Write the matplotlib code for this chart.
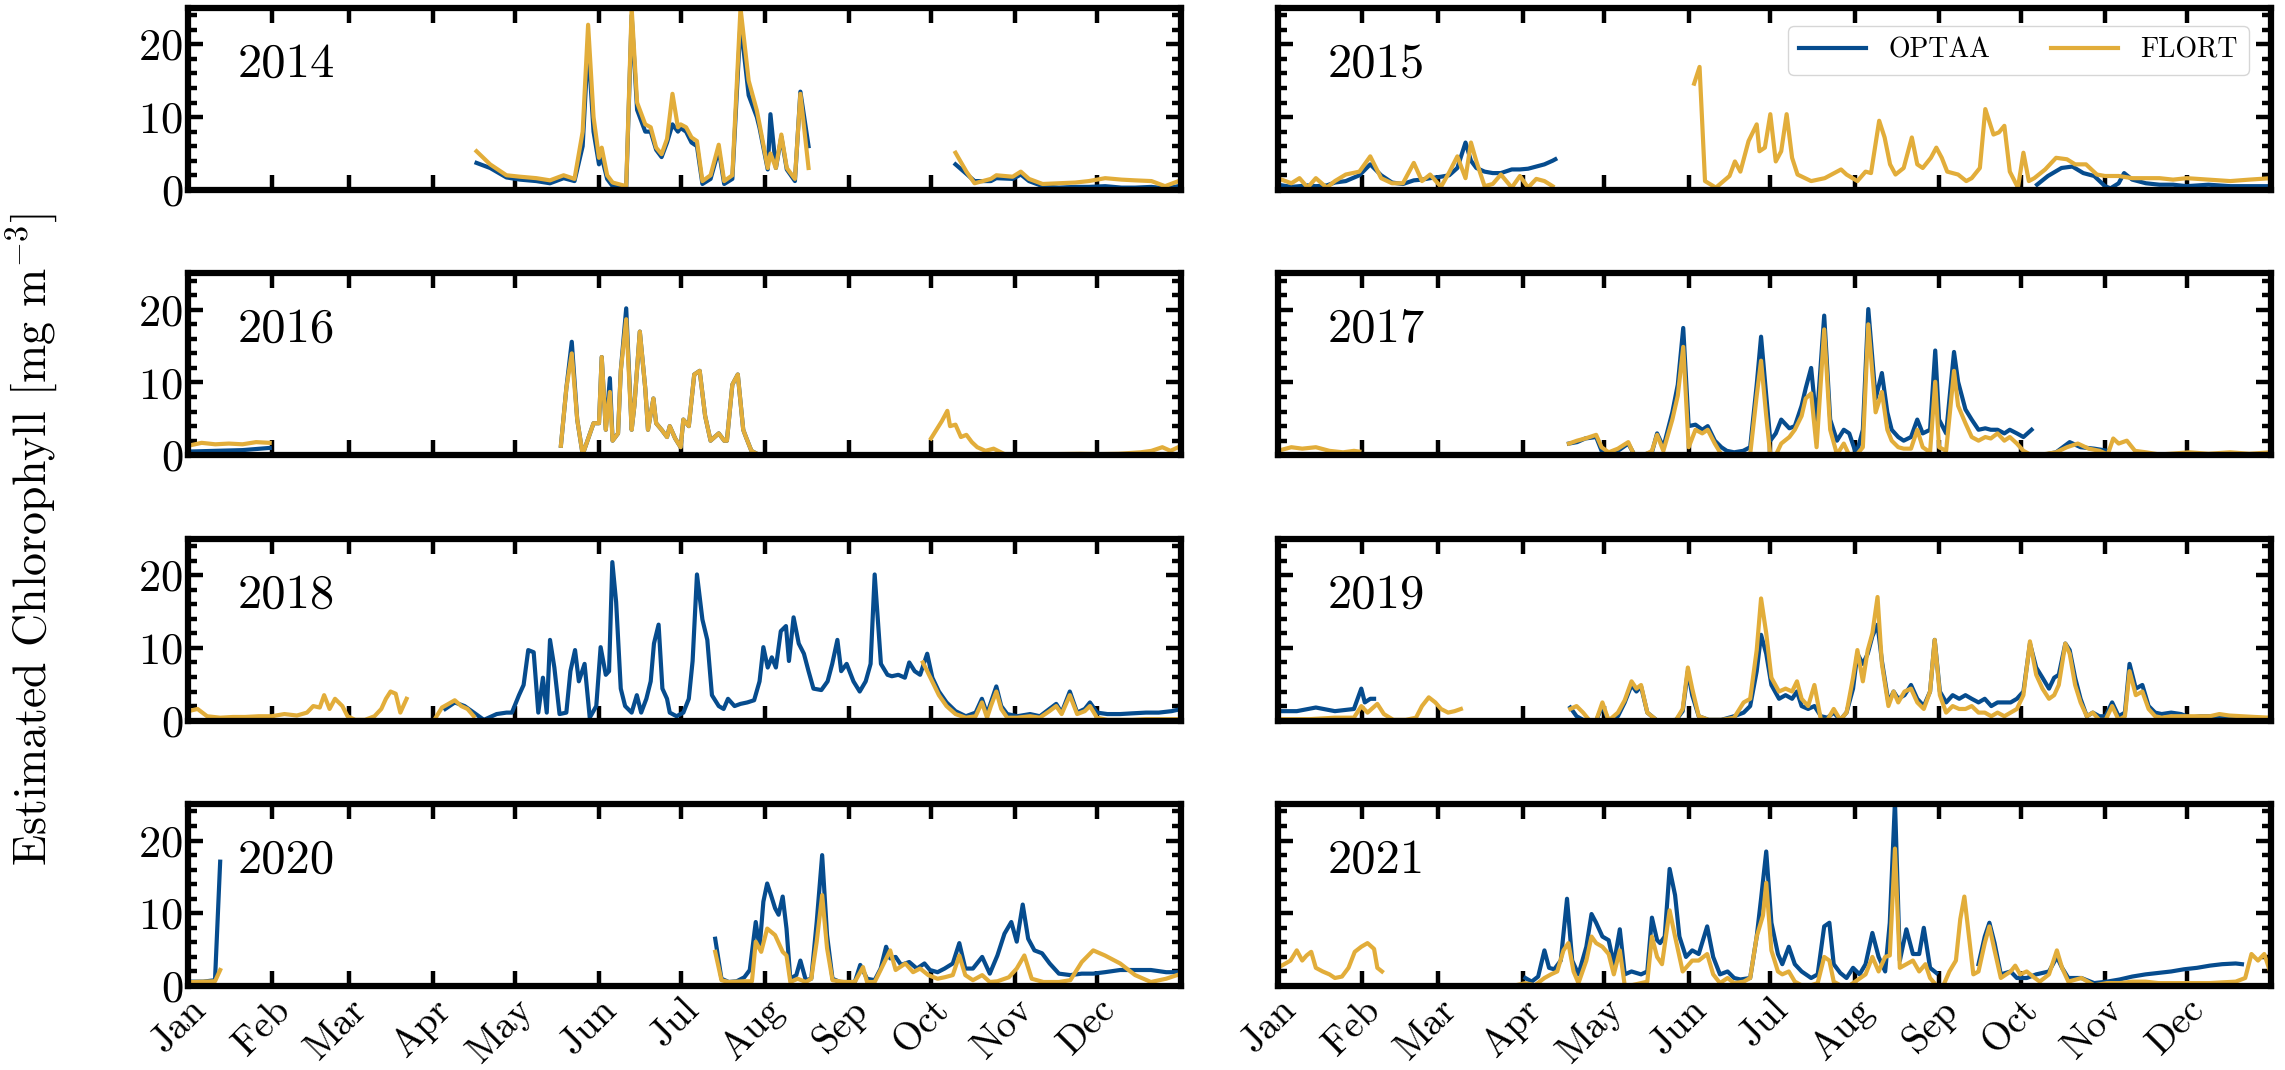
import numpy as np
import matplotlib
matplotlib.use('Agg')
import matplotlib.pyplot as plt
from matplotlib.ticker import MultipleLocator

# fonts: computer modern look
plt.rcParams['font.family'] = 'cmr10'
plt.rcParams['mathtext.fontset'] = 'cm'
plt.rcParams['axes.formatter.use_mathtext'] = True

years = [2014, 2015, 2016, 2017, 2018, 2019, 2020, 2021]
months = ['Jan', 'Feb', 'Mar', 'Apr', 'May', 'Jun', 'Jul', 'Aug', 'Sep', 'Oct', 'Nov', 'Dec']
month_start = [0, 31, 59, 90, 120, 151, 181, 212, 243, 273, 304, 334]

# (day of year, chlorophyll), None = gap in record
optaa_2014 = [(106, 3.7), (111, 3.0), (117, 1.7), (122, 1.4), (128, 1.2), (133, 0.9), (138, 1.6), (142, 1.2),
              (145, 6.0), (147, 20.0), (149, 8.0), (151, 3.5), (152, 4.5), (154, 1.5), (156, 0.5), (161, 0.2),
              (163, 24.0), (165, 11.0), (168, 8.0), (170, 8.0), (172, 5.5), (174, 4.5), (176, 6.5), (178, 9.0),
              (180, 8.0), (181, 8.5), (183, 8.0), (185, 6.5), (187, 6.0), (189, 0.8), (192, 1.5), (195, 5.5),
              (197, 0.8), (200, 1.5), (203, 23.0), (206, 13.0), (209, 10.0), (210, 8.5), (213, 2.8), (214, 10.4),
              (216, 3.0), (218, 7.3), (220, 2.8), (223, 1.2), (225, 13.5), (228, 6.0), (250, None),
              (282, 3.5), (286, 2.2), (289, 1.2), (295, 1.2), (297, 1.6), (303, 1.5), (306, 2.1), (309, 1.2),
              (314, 0.5), (320, 0.3), (326, 0.4), (331, 0.4), (337, 0.5), (343, 0.3), (348, 0.3), (354, 0.4),
              (359, 0.2), (364, 0.5)]
flort_2014 = [(106, 5.3), (111, 3.5), (117, 2.0), (122, 1.8), (128, 1.6), (133, 1.3), (138, 2.0), (142, 1.5),
              (145, 8.0), (147, 22.7), (149, 10.0), (151, 4.4), (152, 5.8), (154, 2.0), (156, 1.0), (161, 0.5),
              (163, 25.0), (165, 12.0), (168, 9.0), (170, 8.6), (172, 5.8), (174, 4.9), (176, 7.0), (178, 13.2),
              (180, 8.6), (181, 9.0), (183, 8.6), (185, 7.2), (187, 6.7), (189, 1.2), (192, 2.0), (195, 6.2),
              (197, 1.2), (200, 2.0), (203, 25.0), (206, 15.0), (209, 10.9), (210, 9.0), (213, 3.0), (214, 5.0),
              (216, 3.0), (218, 7.6), (220, 3.0), (223, 1.5), (225, 13.2), (228, 3.0), (250, None),
              (282, 5.1), (286, 2.5), (289, 0.9), (295, 1.5), (297, 2.0), (303, 1.8), (306, 2.5), (309, 1.5),
              (314, 0.8), (320, 0.9), (326, 1.0), (331, 1.2), (337, 1.6), (343, 1.4), (348, 1.3), (354, 1.2),
              (359, 0.5), (364, 1.2)]

optaa_2015 = [(0, 0.7), (5, 0.4), (8, 0.5), (11, 0.6), (14, 0.5), (18, 0.6), (21, 1.0), (25, 1.2), (30, 2.0),
              (34, 3.5), (38, 2.0), (42, 1.0), (46, 0.8), (50, 1.3), (53, 1.4), (56, 1.6), (60, 1.8), (63, 2.0),
              (66, 3.0), (69, 6.5), (71, 4.0), (73, 3.0), (76, 2.5), (79, 2.3), (82, 2.3), (86, 2.8), (89, 2.8),
              (92, 2.9), (95, 3.2), (98, 3.5), (101, 4.0), (102, 4.2), (150, None),
              (279, 0.7), (283, 1.9), (288, 3.0), (292, 3.2), (296, 2.3), (300, 1.9), (304, 0.5), (306, 0.2),
              (309, 0.9), (311, 2.3), (314, 1.4), (319, 0.9), (324, 0.7), (329, 0.7), (334, 0.5), (342, 0.7),
              (350, 0.5), (357, 0.5), (365, 0.5)]
flort_2015 = [(0, 1.6), (5, 0.9), (8, 1.6), (11, 0.3), (14, 1.6), (18, 0.3), (21, 1.2), (25, 2.1), (30, 2.5),
              (34, 4.6), (38, 1.6), (42, 0.9), (46, 0.9), (50, 3.7), (53, 1.2), (56, 2.1), (60, 0.4), (63, 2.4),
              (66, 4.6), (69, 1.6), (71, 6.5), (73, 3.9), (76, 0.5), (79, 0.8), (82, 2.1), (86, 0.3), (89, 1.9),
              (92, 0.3), (95, 1.5), (98, 1.2), (101, 0.5), (130, None),
              (153, 14.6), (155, 16.9), (157, 1.2), (161, 0.3), (166, 1.9), (168, 3.9), (170, 2.5), (173, 6.7),
              (176, 9.0), (177, 5.3), (179, 5.8), (181, 10.4), (183, 3.9), (185, 5.3), (187, 10.4), (189, 4.4),
              (191, 2.1), (196, 1.2), (201, 1.6), (207, 2.8), (209, 2.1), (213, 1.2), (216, 2.5), (218, 2.3),
              (221, 9.5), (223, 7.2), (225, 3.5), (227, 2.1), (230, 3.0), (233, 7.2), (235, 3.5), (237, 3.0),
              (240, 4.4), (242, 5.8), (244, 4.4), (246, 2.5), (250, 2.1), (253, 1.2), (255, 1.6), (258, 3.0),
              (260, 11.1), (263, 7.6), (265, 7.9), (267, 8.8), (269, 2.5), (272, 0.3), (274, 5.1), (276, 1.2),
              (278, 1.6), (282, 2.8), (286, 4.4), (290, 4.2), (293, 3.5), (297, 3.5), (301, 2.1), (304, 1.9),
              (309, 1.9), (314, 1.6), (319, 1.6), (324, 1.6), (329, 1.4), (334, 1.6), (342, 1.4), (350, 1.2),
              (357, 1.4), (365, 1.6)]

optaa_2016 = [(0, 0.5), (10, 0.6), (20, 0.7), (30, 1.0), (60, None),
              (137, 1.3), (139, 9.2), (141, 15.6), (143, 4.9), (145, 0.1), (149, 4.4), (151, 4.4), (152, 13.5),
              (153.5, 3.5), (155, 10.6), (156, 2.0), (158, 3.0), (159, 11.6), (161, 20.2), (163, 3.5), (164, 6.8),
              (166, 17.0), (168, 9.2), (169, 3.5), (171, 7.8), (172, 4.4), (174, 3.5), (176, 2.5), (177, 4.0),
              (179, 2.3), (181, 1.1), (182, 4.9), (184, 4.0), (186, 11.1), (188, 11.6), (190, 5.4), (192, 2.0),
              (195, 3.0), (197, 2.0), (198, 2.0), (200, 9.7), (202, 11.1), (204, 3.5), (205, 2.5), (207, 0.6),
              (209, 0.2)]
flort_2016 = [(0, 1.3), (5, 1.7), (10, 1.5), (15, 1.6), (20, 1.5), (25, 1.8), (30, 1.7), (60, None),
              (137, 1.3), (139, 9.2), (141, 14.0), (143, 4.9), (145, 0.1), (149, 4.4), (151, 4.4), (152, 13.5),
              (153.5, 3.5), (155, 8.7), (156, 2.0), (158, 3.0), (159, 11.6), (161, 18.7), (163, 3.5), (164, 6.8),
              (166, 17.0), (168, 9.2), (169, 3.5), (171, 7.8), (172, 4.4), (174, 3.5), (176, 2.5), (177, 4.0),
              (179, 2.3), (181, 1.1), (182, 4.9), (184, 4.0), (186, 11.1), (188, 11.6), (190, 5.4), (192, 2.0),
              (195, 3.0), (197, 2.0), (198, 2.0), (200, 9.7), (202, 11.1), (204, 3.5), (205, 2.5), (207, 0.6),
              (209, 0.2), (211, 0.0), (240, None),
              (273, 2.3), (275, 3.5), (277, 4.7), (279, 6.1), (280, 4.0), (282, 4.2), (284, 2.5), (286, 2.8),
              (288, 1.8), (290, 1.1), (293, 0.6), (296, 0.9), (300, 0.15), (305, 0.15), (312, 0.15), (319, 0.15),
              (328, 0.2), (335, 0.15), (342, 0.2), (350, 0.4), (354, 0.6), (358, 1.1), (361, 0.6), (365, 1.3)]

optaa_2017 = [(107, 1.6), (110, 1.8), (113, 2.3), (117, 2.5), (119, 0.6), (121.6, 0.1), (125, 0.6), (128.8, 1.6),
              (131, 0.1), (134.6, 0.1), (137.5, 0.4), (139.4, 3.0), (141.7, 1.1), (145, 5.9), (147, 9.7),
              (149, 17.5), (151, 4.0), (153.5, 4.2), (156, 3.5), (158, 4.0), (160.6, 2.0), (163, 1.1), (165, 0.6),
              (167.7, 0.4), (171, 0.6), (173.6, 1.1), (176, 9.7), (177.6, 16.3), (179.5, 8.2), (181, 2.0),
              (183, 3.0), (185, 4.9), (188, 3.7), (190, 4.0), (192.5, 6.8), (194, 9.2), (196, 12.0), (198, 4.4),
              (200.8, 19.2), (203, 4.9), (205.5, 2.0), (208, 3.5), (210, 3.0), (212.6, 0.1), (215, 3.5),
              (217, 20.1), (219.7, 7.8), (222, 11.3), (224, 5.9), (225.6, 3.5), (228, 2.5), (230, 2.0),
              (232.7, 2.5), (235, 4.9), (237, 3.0), (239.7, 3.5), (241.6, 14.4), (243, 4.9), (245.6, 3.0),
              (248.5, 14.2), (250, 10.1), (252.7, 6.3), (255, 4.9), (257.5, 3.5), (260, 3.7), (262, 3.5),
              (264.5, 3.5), (267, 3.0), (269, 3.5), (271.6, 3.0), (274, 2.5), (277, 3.5), (279, None),
              (282, 0.1), (286, 0.4), (291, 1.8), (295, 1.1), (300, 0.9), (305, 0.6)]
flort_2017 = [(0, 0.6), (5, 1.1), (9, 0.9), (14, 1.1), (19, 0.6), (24, 0.4), (28, 0.6), (30, 0.5), (60, None),
              (107, 1.6), (110, 2.0), (113, 2.3), (117, 2.8), (119, 1.1), (121.6, 0.4), (125, 0.9), (128.8, 1.8),
              (131, 0.0), (134.6, 0.0), (137.5, 0.6), (139.4, 2.8), (141.7, 0.6), (145, 4.9), (147, 8.2),
              (149, 14.9), (151, 1.1), (153.5, 3.5), (156, 3.0), (158, 3.5), (160.6, 1.6), (163, 0.1), (165, 0.1),
              (167.7, 0.0), (171, 0.0), (173.6, 0.1), (176, 8.2), (177.6, 13.0), (179.5, 5.4), (181, 0.0),
              (183, 0.0), (185, 1.6), (188, 2.5), (190, 3.5), (192.5, 5.4), (194, 7.8), (196, 8.5), (198, 1.1),
              (200.8, 17.3), (203, 3.5), (205.5, 0.1), (208, 1.6), (210, 0.0), (212.6, 0.0), (215, 1.1),
              (217, 18.0), (219.7, 5.9), (222, 8.7), (224, 3.5), (225.6, 2.0), (228, 1.1), (230, 0.9),
              (232.7, 0.9), (235, 3.5), (237, 1.1), (239.7, 0.4), (241.6, 10.1), (243, 1.1), (245.6, 0.6),
              (248.5, 11.6), (250, 6.8), (252.7, 4.4), (255, 2.5), (257.5, 2.0), (260, 2.5), (262, 2.3),
              (264.5, 3.0), (267, 2.0), (269, 2.5), (271.6, 1.6), (274, 0.6), (277, 0.0), (281, 0.1), (286, 0.4),
              (290, 1.1), (294, 1.6), (298, 0.9), (302, 0.6), (305, 0.1), (307, 2.3), (309, 1.6), (312, 2.0),
              (315, 0.6), (319, 0.4), (324, 0.1), (328, 0.2), (335, 0.4), (342, 0.2), (350, 0.4), (357, 0.2),
              (365, 0.4)]

optaa_2018 = [(94.5, 1.6), (98, 2.5), (101.6, 2.0), (105, 1.1), (108.7, 0.1), (113.4, 0.9), (117, 1.1), (119, 1.1),
              (121.6, 3.5), (123.3, 4.9), (125, 9.7), (127, 9.4), (128.7, 1.1), (130.4, 5.9), (131.8, 1.1),
              (133, 11.1), (134.6, 7.3), (136.5, 0.9), (139, 1.1), (140.5, 6.8), (142.2, 9.7), (143.6, 5.4),
              (145.7, 7.8), (147.6, 0.4), (150, 2.0), (151.6, 10.1), (153.5, 6.3), (154.7, 6.8), (155.9, 21.8),
              (157.3, 16.3), (159, 4.4), (160.6, 2.0), (163, 1.1), (164.9, 3.5), (166.5, 1.1), (168.4, 3.0),
              (170, 5.4), (171.2, 10.6), (172.9, 13.2), (174.3, 4.4), (176, 3.0), (177, 1.1), (179.5, 0.6),
              (182, 1.1), (184, 3.0), (185.4, 8.2), (187, 20.1), (189, 13.9), (190.8, 11.1), (192.5, 3.5),
              (195, 2.0), (196.8, 1.6), (198.4, 3.0), (200.8, 2.0), (203, 2.3), (205.5, 2.5), (208, 2.8),
              (210, 5.4), (211.4, 10.1), (213, 7.3), (214.5, 8.7), (216, 7.3), (217.8, 12.3), (219.7, 13.0),
              (220.8, 8.2), (222.5, 14.2), (224.4, 10.6), (226.3, 9.2), (228, 6.8), (229.8, 4.4), (232.7, 4.2),
              (235, 5.4), (236.7, 7.8), (238.6, 11.1), (240, 6.8), (242, 7.8), (244.5, 5.4), (246.8, 4.0),
              (249, 5.4), (250.8, 7.8), (252.3, 20.1), (254.6, 7.8), (257, 6.3), (258.6, 6.1), (261, 6.3),
              (263.4, 5.9), (265, 8.0), (267, 6.8), (269, 6.3), (271.6, 9.2), (273.5, 5.9), (275.9, 4.0),
              (278.7, 2.5), (282, 1.3), (285.8, 0.6), (289.4, 1.1), (291.7, 3.0), (293.6, 0.9), (295, 2.5),
              (297, 4.7), (298.8, 2.0), (301, 0.9), (304.7, 0.6), (309.4, 0.9), (313, 0.6), (316.5, 1.6),
              (319, 2.3), (321, 1.1), (324, 4.0), (326.7, 1.1), (329.5, 1.6), (331.4, 2.5), (334, 1.1),
              (337.8, 0.9), (342.5, 0.9), (347, 1.0), (352, 1.1), (356.7, 1.1), (361.4, 1.3), (365, 1.6)]
flort_2018 = [(0, 1.3), (3.5, 1.6), (7, 0.6), (11.8, 0.4), (16.5, 0.5), (21, 0.5), (26, 0.6), (30.7, 0.6),
              (35.4, 0.9), (40, 0.7), (43.7, 1.1), (46, 2.0), (48.4, 1.8), (50, 3.5), (52, 1.6), (54, 3.0),
              (56.7, 2.0), (58.6, 0.6), (61.4, 0.1), (65, 0.1), (68.5, 0.6), (71, 1.6), (72.7, 3.0), (74.4, 4.0),
              (76.3, 3.7), (78, 1.1), (80.3, 3.0), (85, None),
              (91, 0.4), (93.3, 1.8), (95.7, 2.3), (98, 2.8), (100.4, 2.0), (102.7, 1.6), (105, 0.6), (150, None),
              (270, 8.0), (271.6, 6.8), (275.9, 3.5), (278.7, 2.0), (282, 0.9), (285.8, 0.4), (289.4, 0.6),
              (291.7, 2.5), (293.6, 0.4), (295, 2.0), (297, 4.0), (298.8, 1.6), (301, 0.4), (304.7, 0.4),
              (309.4, 0.6), (313, 0.4), (316.5, 1.3), (319, 2.0), (321, 0.9), (324, 3.5), (326.7, 0.9),
              (329.5, 1.3), (331.4, 2.0), (334, 0.4), (337.8, 0.1), (342.5, 0.1), (347, 0.1), (352, 0.2),
              (356.7, 0.2), (361.4, 0.2), (365, 0.2)]

days_2019 = [107.5, 109.8, 112.2, 114.6, 117, 119.3, 121.6, 125, 127.5, 130, 131.8, 133.5, 135.8, 139.4, 142.9,
             146.4, 148.8, 150.7, 152.3, 154.7, 158.3, 163, 167.7, 171.2, 173.6, 176, 177.6, 179.5, 181.4, 184.2,
             186.6, 189, 190.8, 192.5, 194.9, 197.2, 199.6, 202, 204.3, 206.7, 209, 211.4, 213, 215, 216.8,
             218.5, 220.4, 222, 224.4, 226.3, 228, 230.3, 232.7, 235, 237.4, 239.7, 241.4, 243.3, 245.6, 248,
             250.4, 252.7, 255, 257.5, 259.8, 262.2, 264.5, 267, 269.3, 271.6, 274, 276.4, 278.7, 281, 283.4,
             285.3, 287, 289.4, 291, 293, 295, 297.3, 299.5, 301.9, 304.2, 306.6, 309, 311.3, 313, 315.3, 317.7,
             320, 322.4, 324.8, 328.3, 331.9, 335.4, 339, 342.5, 346, 349.6, 354.3, 359, 365]
optaa_2019_vals = [1.8, 0.6, 0.1, 0, 0, 2.0, 0, 0.6, 2.5, 4.9, 4.0, 4.7, 1.1, 0, 0, 0.1, 1.3, 6.8, 3.5, 0.6,
                   0.1, 0.1, 0.6, 1.1, 2.0, 6.8, 11.8, 9.2, 4.9, 3.0, 3.5, 3.0, 4.0, 2.0, 1.6, 2.0, 0.6, 0.4, 1.1, 0.1,
                   1.1, 4.4, 9.2, 7.8, 9.2, 11.6, 13.2, 8.2, 2.5, 4.0, 3.0, 3.5, 4.9, 3.0, 2.0, 4.0, 11.1, 4.0, 2.5, 3.5,
                   3.0, 3.5, 3.0, 2.5, 3.0, 2.0, 2.5, 2.5, 2.5, 3.0, 4.0, 10.6, 7.3, 5.9, 4.4, 5.9, 6.3, 10.6, 9.7, 5.9,
                   3.0, 0.6, 1.1, 0.6, 0.6, 2.5, 0.6, 1.1, 7.8, 4.4, 4.9, 2.0, 1.1, 0.9, 1.1, 0.9, 0.4, 0.6, 0.6, 0.5,
                   0.5, 0.4, 0.3, 0.3]
flort_2019_vals = [1.6, 2.0, 1.1, 0, 0, 2.5, 0, 1.1, 2.8, 5.4, 4.4, 4.9, 1.1, 0, 0, 0.1, 1.6, 7.3, 4.4, 0.6,
                   0.1, 0.1, 0.4, 2.5, 3.0, 9.7, 16.8, 12.0, 5.9, 4.0, 4.4, 4.0, 5.4, 3.0, 2.0, 4.9, 0.1, 0.1, 1.6, 0.1,
                   1.1, 5.9, 9.7, 5.4, 9.7, 12.0, 17.0, 7.8, 2.0, 4.0, 2.5, 4.0, 4.4, 2.5, 1.6, 4.0, 11.1, 3.5, 1.1, 2.0,
                   1.6, 1.6, 2.0, 1.1, 1.1, 0.6, 1.1, 0.6, 1.1, 1.6, 3.5, 10.9, 6.3, 4.4, 3.0, 3.5, 4.9, 10.6, 9.2, 4.9,
                   2.5, 0.6, 1.1, 0.1, 0.1, 2.0, 0.1, 0.6, 6.8, 3.5, 4.0, 1.6, 0.6, 0.4, 0.6, 0.6, 0.6, 0.6, 0.6, 0.9,
                   0.7, 0.6, 0.5, 0.4]
optaa_2019 = [(0, 1.3), (7, 1.3), (14, 1.8), (21, 1.3), (28, 1.6), (30.7, 4.4), (32, 2.5), (34, 3.0), (35.4, 3.0),
              (60, None)] + list(zip(days_2019, optaa_2019_vals))
flort_2019 = [(0, 0.2), (11.8, 0.2), (21, 0.4), (28, 0.4), (30.7, 2.0), (33, 1.1), (36.6, 2.3), (39, 0.9),
              (42.5, 0.1), (47, 0.1), (50.8, 0.4), (53, 2.0), (55.5, 3.2), (57.9, 2.5), (60, 1.6), (62.6, 1.1),
              (65, 1.3), (67.3, 1.6), (85, None)] + list(zip(days_2019, flort_2019_vals))

optaa_2020 = [(1.4, 0.6), (5.6, 0.6), (9.9, 0.8), (11.8, 17.1), (40, None),
              (193.7, 6.5), (196, 1.0), (198.7, 0.55), (201.6, 0.65), (204.4, 1.2), (206.4, 2.2), (208.6, 8.8),
              (210, 5.2), (211.4, 11.6), (212.8, 14.1), (214.2, 12.5), (215.7, 10.7), (217, 9.8), (218.5, 12.3),
              (219.9, 7.9), (221.3, 1.0), (223.5, 1.5), (225, 3.5), (227, 0.8), (229, 1.0), (231, 8.8), (233, 18.0),
              (234.8, 7.0), (236.8, 1.0), (239.6, 0.55), (242.4, 0.55), (245, 0.55), (247, 2.9), (249.5, 1.0),
              (252.3, 0.8), (254.5, 2.4), (256.5, 5.4), (258, 3.8), (260, 4.0), (262, 2.9), (265, 3.3),
              (267.8, 2.4), (270.6, 3.1), (272.6, 2.2), (275.4, 1.9), (278, 2.4), (281, 3.1), (283.4, 5.9),
              (285.6, 2.4), (288.4, 2.4), (291.8, 4.0), (294.6, 1.7), (297.4, 4.2), (300, 7.2), (302.5, 8.8),
              (304.5, 6.1), (306.7, 11.2), (308.7, 6.5), (311, 4.9), (313.8, 4.5), (316.6, 3.1), (320, 1.7),
              (324.2, 1.5), (328.4, 1.7), (332.6, 1.7), (336.9, 1.9), (342.5, 2.2), (348, 2.2), (353.8, 2.2),
              (359.4, 1.9), (365, 1.9)]
flort_2020 = [(1.4, 0.55), (5.6, 0.6), (9.9, 0.65), (11.8, 2.2), (40, None),
              (193.7, 4.7), (196, 0.8), (198.7, 0.55), (204.4, 0.65), (207.2, 0.65), (208.6, 6.1), (210.6, 4.7),
              (212.8, 7.9), (215.7, 7.0), (218.5, 4.7), (219.9, 4.2), (221.3, 0.55), (224, 1.0), (227, 0.55),
              (229, 1.0), (231, 6.1), (233, 12.5), (234.8, 5.2), (236.8, 0.8), (241, 0.55), (245, 0.55), (248, 2.6),
              (249.5, 0.55), (252.3, 0.55), (255, 2.6), (258, 4.9), (260, 2.2), (263.6, 3.1), (266.4, 1.9),
              (269, 2.4), (272, 1.5), (275.4, 1.0), (278, 1.2), (281, 1.5), (283.4, 4.2), (285.6, 1.5),
              (288.4, 0.8), (291.8, 1.5), (294.6, 0.55), (297.4, 0.65), (301.6, 1.2), (304.5, 2.4), (307.3, 4.2),
              (310, 1.0), (314.3, 0.55), (320, 0.55), (324.2, 0.8), (328.4, 3.3), (332.6, 4.9), (336.9, 4.2),
              (342.5, 3.1), (348, 1.5), (353.8, 0.55), (359.4, 1.0), (365, 1.7)]

optaa_2021 = [(91, 1.1), (93.3, 0.6), (95.7, 1.3), (98, 4.9), (99.7, 2.5), (101.6, 2.3), (104, 3.5), (106.3, 12.0),
              (108.2, 3.5), (110.5, 1.6), (113.4, 5.4), (115.3, 9.9), (117, 8.7), (119.3, 6.8), (121.6, 6.3),
              (123.5, 3.0), (125.7, 7.8), (127.5, 1.6), (130, 2.0), (133.5, 1.6), (135.8, 2.0), (137.5, 9.4),
              (139.4, 6.3), (140.5, 5.9), (142.2, 6.8), (144, 16.1), (146, 12.5), (147.6, 6.8), (150, 4.0),
              (152.3, 4.9), (154.7, 4.4), (157.8, 8.2), (160, 4.0), (162.5, 1.6), (165.3, 2.0), (167.7, 1.1),
              (170, 0.9), (173.6, 1.1), (176, 6.8), (177.6, 12.0), (179.5, 18.5), (181.4, 8.7), (183.8, 4.4),
              (185.4, 3.0), (187.8, 5.4), (190, 3.0), (192.5, 2.0), (196, 1.1), (198.4, 1.6), (200.8, 8.2),
              (202.7, 8.7), (204.3, 3.0), (206.7, 1.8), (209, 1.1), (211.4, 2.5), (213.8, 1.6), (216, 3.0),
              (218.5, 7.3), (220.8, 4.0), (223.2, 2.0), (224.9, 8.7), (226.8, 25.4), (228.6, 3.5), (231, 7.8),
              (233.4, 4.4), (235.7, 4.4), (237.4, 8.0), (239.7, 2.5), (242, 1.8), (250, None),
              (257.5, 3.0), (259.8, 6.8), (261.5, 8.7), (263.4, 5.9), (265.7, 1.6), (269.3, 2.0), (271.6, 1.1),
              (275.2, 1.1), (278.7, 1.6), (283.4, 2.0), (286.3, 4.0), (288.2, 2.5), (290.5, 1.1), (295.3, 1.1),
              (300, 0.4), (304.7, 0.6), (309.4, 0.9), (314, 1.3), (318.9, 1.6), (323.6, 1.8), (328.3, 2.0),
              (333, 2.3), (337.8, 2.5), (342.5, 2.8), (347, 3.0), (352, 3.1), (354.3, 3.0)]
flort_2021 = [(0, 2.5), (2.4, 3.0), (4.7, 3.5), (7, 4.9), (9, 3.5), (10.6, 4.2), (12.3, 4.7), (14, 2.5), (16.5, 2.0),
              (19, 1.6), (21, 1.1), (23.6, 1.3), (26, 2.5), (28.3, 4.7), (30.7, 5.4), (33, 5.9), (35.4, 5.1),
              (36.6, 2.5), (38.3, 2.0), (60, None),
              (87.4, 0.1), (91, 0.4), (94.5, 0.1), (98, 1.1), (100.4, 1.6), (102.7, 2.0), (105, 4.9), (106.8, 5.9),
              (108.7, 2.0), (110.5, 0.4), (113.4, 3.5), (115.3, 6.8), (117, 5.9), (119.3, 5.4), (121.6, 4.4),
              (123.5, 1.6), (125.7, 4.9), (127.5, 0.1), (130, 0.1), (133.5, 0.4), (135.8, 0.6), (137.5, 6.8),
              (139.4, 4.0), (141.2, 3.0), (144, 10.4), (146, 6.8), (148.8, 2.0), (152.3, 3.5), (154.7, 3.5),
              (157.8, 4.4), (160, 1.6), (162.5, 0.4), (165.3, 1.1), (167.7, 0.4), (171.2, 0.6), (173.6, 1.1),
              (176, 6.8), (178.3, 9.7), (179.5, 14.2), (181.4, 4.9), (183.8, 2.0), (185.4, 1.6), (187.8, 2.0),
              (190, 0.6), (192.5, 0.1), (196, 0.1), (198.4, 0.4), (200.8, 4.0), (202.7, 3.5), (204.3, 0.6),
              (206.7, 0.1), (210.2, 0.1), (211.4, 0.4), (216, 1.6), (218.5, 4.0), (220.8, 2.0), (223.2, 4.0),
              (224.9, 4.2), (226.8, 18.9), (228.6, 2.5), (231, 3.0), (233.4, 3.5), (235.7, 2.0), (238, 3.0),
              (239.7, 1.1), (242, 0.1), (244.5, 0.0), (246.8, 2.0), (249.2, 3.5), (250.8, 9.2), (252.3, 12.3),
              (254, 6.8), (255.6, 1.6), (257.5, 2.0), (259.8, 5.9), (261.5, 8.2), (263.4, 4.9), (265.7, 1.1),
              (269.3, 2.0), (271, 2.8), (272.8, 1.6), (275.2, 2.0), (277.5, 1.3), (280, 0.6), (283.4, 1.6),
              (286.3, 4.9), (288.2, 2.5), (290.5, 0.6), (295.3, 1.1), (300, 0.1), (304.7, 0.4), (309.4, 0.4),
              (314, 0.6), (318.9, 0.6), (323.6, 0.4), (328.3, 0.4), (333, 0.4), (337.8, 0.4), (342.5, 0.4),
              (347, 0.5), (352, 0.6), (355.5, 1.1), (357.8, 4.4), (360.2, 3.5), (362.5, 4.4), (365, 1.6)]

optaa_all = [optaa_2014, optaa_2015, optaa_2016, optaa_2017, optaa_2018, optaa_2019, optaa_2020, optaa_2021]
flort_all = [flort_2014, flort_2015, flort_2016, flort_2017, flort_2018, flort_2019, flort_2020, flort_2021]

col_optaa = '#064C8E'
col_flort = '#E2AD3A'


def split(pts):
    x = [p[0] for p in pts]
    y = [np.nan if p[1] is None else p[1] for p in pts]
    return x, y


fig, axes = plt.subplots(4, 2, figsize=(22.85, 10.70), dpi=100, sharex=True, sharey=True)
fig.subplots_adjust(left=0.0823, right=0.9939, top=0.9925, bottom=0.0785, wspace=0.097, hspace=0.46)

for i, ax in enumerate(axes.flat):
    x, y = split(optaa_all[i])
    ax.plot(x, y, color=col_optaa, lw=3.0, label='OPTAA')
    x, y = split(flort_all[i])
    ax.plot(x, y, color=col_flort, lw=3.0, label='FLORT')
    ax.text(0.05, 0.69, str(years[i]), transform=ax.transAxes, fontsize=35, va='center', ha='left')

    ax.set_xlim(0, 365)
    ax.set_ylim(0, 25)
    ax.set_xticks(month_start)
    ax.set_xticklabels(months)
    ax.yaxis.set_major_locator(MultipleLocator(10))
    ax.yaxis.set_minor_locator(MultipleLocator(2))
    ax.tick_params(which='both', direction='in', top=True, right=True)
    ax.tick_params(axis='y', labelsize=32)
    ax.tick_params(axis='x', labelsize=28, pad=4)
    ax.tick_params(which='major', length=11, width=3.2)
    ax.tick_params(which='minor', length=6.5, width=3.2)
    ax.tick_params(axis='x', which='minor', bottom=False, top=False)
    for s in ax.spines.values():
        s.set_linewidth(4.5)

for ax in axes[-1]:
    for lbl in ax.get_xticklabels():
        lbl.set_rotation(45)
        lbl.set_ha('right')
        lbl.set_va('top')
        lbl.set_rotation_mode('anchor')

axes[0, 1].legend(loc='upper right', bbox_to_anchor=(0.983, 0.93), ncol=2, fontsize=20,
                  handlelength=2.4, columnspacing=2.2, borderaxespad=0.2, frameon=True)

fig.text(0.014, 0.496, 'Estimated Chlorophyll [mg m$^{-3}$]', rotation=90, va='center', ha='center', fontsize=33)

fig.savefig('out.png', dpi=100)
